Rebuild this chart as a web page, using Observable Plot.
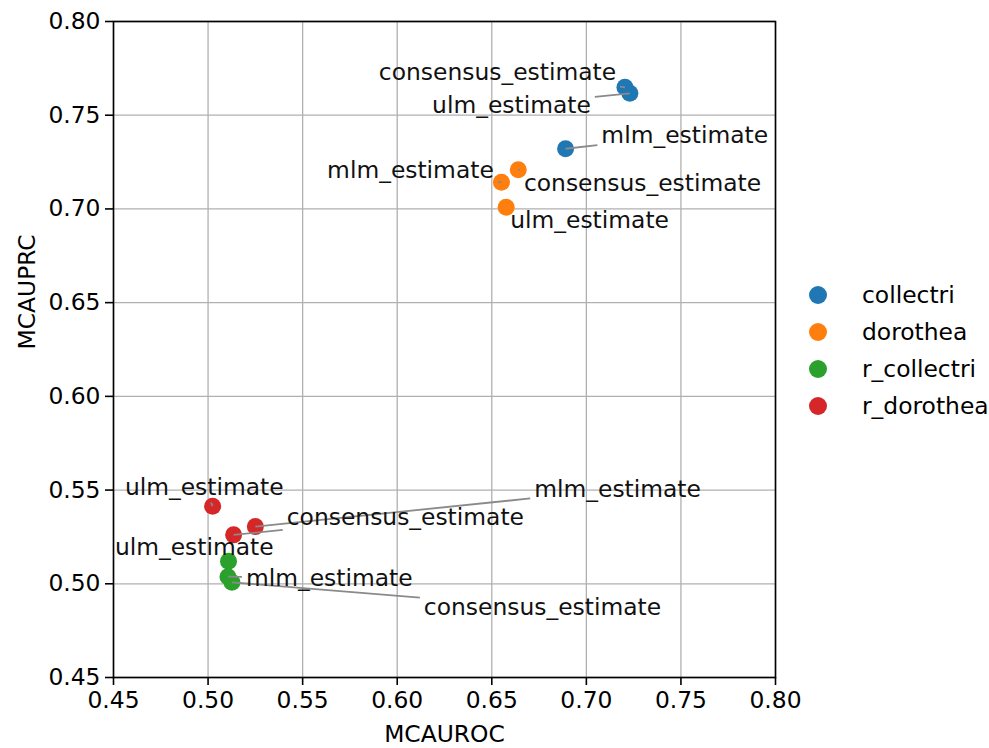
<!DOCTYPE html>
<html><head><meta charset="utf-8">
<script src="https://cdn.jsdelivr.net/npm/d3@7"></script>
<script src="https://cdn.jsdelivr.net/npm/@observablehq/plot@0.6"></script>
<style>
body{margin:0;background:#fff;font-family:'DejaVu Sans',sans-serif;}
#wrap{position:relative;width:989px;height:748px;overflow:hidden;}
#chart{position:absolute;left:0;top:0;}
#legend{position:absolute;left:808px;top:276px;font-size:23.4px;color:#000;}
.item{display:flex;align-items:center;height:37px;}
.item svg{margin-right:34px;}
</style></head><body>
<div id="wrap"><div id="chart"></div><div id="legend"></div></div>
<script>
// ---- data ----
const networks = ["collectri", "dorothea", "r_collectri", "r_dorothea"];
const networkColors = ["#1f77b4", "#ff7f0e", "#2ca02c", "#d62728"];

const network = ["collectri","collectri","collectri",
                 "dorothea","dorothea","dorothea",
                 "r_collectri","r_collectri","r_collectri",
                 "r_dorothea","r_dorothea","r_dorothea"];
const method = ["consensus_estimate","ulm_estimate","mlm_estimate",
                "consensus_estimate","mlm_estimate","ulm_estimate",
                "ulm_estimate","mlm_estimate","consensus_estimate",
                "ulm_estimate","mlm_estimate","consensus_estimate"];
const mcauroc = [0.7204, 0.7230, 0.6890,
                 0.6640, 0.6551, 0.6576,
                 0.5108, 0.5105, 0.5126,
                 0.5024, 0.5250, 0.5135];
const mcauprc = [0.7649, 0.7617, 0.7321,
                 0.7209, 0.7142, 0.7009,
                 0.5120, 0.5038, 0.5008,
                 0.5414, 0.5305, 0.5261];
// label anchor positions (data units, as placed by the text-repel step)
const labelX = [0.6530, 0.6604, 0.7520,
                0.7297, 0.6070, 0.7017,
                0.4927, 0.5641, 0.6768,
                0.4980, 0.7165, 0.6043];
const labelY = [0.7728, 0.7552, 0.7392,
                0.7136, 0.7205, 0.6938,
                0.5193, 0.5028, 0.4873,
                0.5513, 0.5503, 0.5353];

const xTicks = [0.45, 0.50, 0.55, 0.60, 0.65, 0.70, 0.75, 0.80];
const yTicks = [0.45, 0.50, 0.55, 0.60, 0.65, 0.70, 0.75, 0.80];
const xLabel = "MCAUROC";
const yLabel = "MCAUPRC";

// ---- layout ----
const W = 805, H = 748, mL = 113, mR = 30, mT = 21, mB = 71;
const FS = 23.4;
const font = `${FS}px 'DejaVu Sans'`;

const points = network.map((n, i) => ({
  network: n, method: method[i], x: mcauroc[i], y: mcauprc[i], lx: labelX[i], ly: labelY[i]
}));

// connector: from label box edge to point (computed in pixel space, mapped back to data)
const sx = d3.scaleLinear([0.45, 0.80], [mL, W - mR]);
const sy = d3.scaleLinear([0.45, 0.80], [H - mB, mT]);
const ctx = document.createElement("canvas").getContext("2d");
ctx.font = font;
const links = [];
for (const p of points) {
  const cx = sx(p.lx), cy = sy(p.ly), px = sx(p.x), py = sy(p.y);
  const hw = ctx.measureText(p.method).width / 2 + 4, hh = 15;
  const dx = px - cx, dy = py - cy;
  const t = Math.min(dx ? hw / Math.abs(dx) : Infinity, dy ? hh / Math.abs(dy) : Infinity);
  if (t < 1) {
    links.push({x1: sx.invert(cx + t * dx), y1: sy.invert(cy + t * dy), x2: p.x, y2: p.y});
  }
}

const chart = Plot.plot({
  width: W, height: H,
  marginLeft: mL, marginRight: mR, marginTop: mT, marginBottom: mB,
  style: {fontFamily: "'DejaVu Sans'", fontSize: FS + "px", background: "transparent", color: "black"},
  x: {domain: [0.45, 0.80]},
  y: {domain: [0.45, 0.80]},
  color: {domain: networks, range: networkColors},
  marks: [
    Plot.gridX(xTicks, {stroke: "#b0b0b0", strokeOpacity: 1, strokeWidth: 1.3}),
    Plot.gridY(yTicks, {stroke: "#b0b0b0", strokeOpacity: 1, strokeWidth: 1.3}),
    Plot.axisX({ticks: xTicks, tickFormat: d3.format(".2f"), tickSize: 8, tickPadding: 6, fontSize: FS, label: null, stroke: "black", strokeWidth: 1.6}),
    Plot.axisY({ticks: yTicks, tickFormat: d3.format(".2f"), tickSize: 8, tickPadding: 5, fontSize: FS, label: null, stroke: "black", strokeWidth: 1.6}),
    Plot.dot(points, {x: "x", y: "y", fill: "network", r: 8.5, stroke: "none"}),
    Plot.link(links, {x1: "x1", y1: "y1", x2: "x2", y2: "y2", stroke: "#8a8a8a", strokeWidth: 1.8}),
    Plot.text(points, {x: "lx", y: "ly", text: "method", fontSize: FS, fill: "#111", textAnchor: "middle", lineAnchor: "middle"}),
    Plot.frame({stroke: "black", strokeWidth: 1.6}),
    Plot.text([xLabel], {frameAnchor: "bottom", dy: 57, text: d => d, fontSize: FS, lineAnchor: "middle"}),
    Plot.text([yLabel], {frameAnchor: "left", dx: -86, text: d => d, fontSize: FS, rotate: -90, lineAnchor: "middle"})
  ]
});
document.getElementById("chart").appendChild(chart);

// legend
const legend = d3.select("#legend");
networks.forEach((n, i) => {
  const item = legend.append("div").attr("class", "item");
  const s = item.append("svg").attr("width", 20).attr("height", 20);
  s.append("circle").attr("cx", 10).attr("cy", 10).attr("r", 9).attr("fill", networkColors[i]);
  item.append("span").text(n);
});
</script>
</body></html>
